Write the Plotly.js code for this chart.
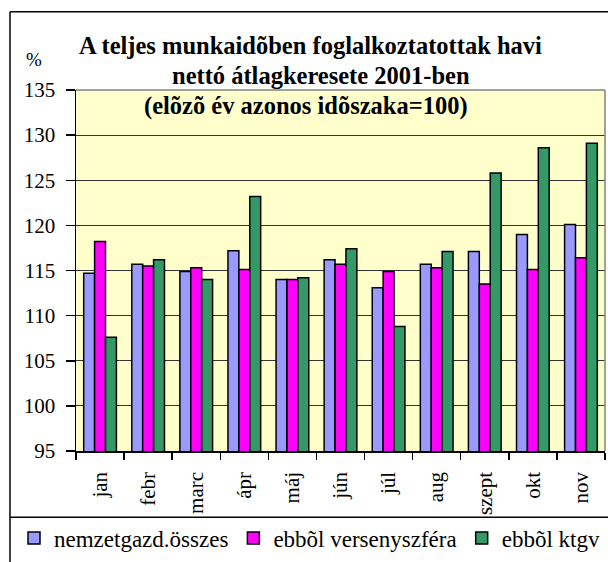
<!DOCTYPE html>
<html>
<head>
<meta charset="utf-8">
<script src="https://cdn.plot.ly/plotly-3.0.1.min.js"></script>
<style>html,body{margin:0;padding:0;background:#fff;}#chart{width:608px;height:562px;}</style>
</head>
<body>
<div id="chart"></div>
<script>
var categories = ['jan','febr','marc','ápr','máj','jún','júl','aug','szept','okt','nov'];
var nemzetgazd = [114.7, 115.7, 114.9, 117.2, 114.0, 116.2, 113.1, 115.7, 117.1, 119.0, 120.1];
var versenyszfera = [118.2, 115.5, 115.3, 115.1, 114.0, 115.7, 114.9, 115.3, 113.5, 115.1, 116.4];
var ktgv = [107.6, 116.2, 114.0, 123.2, 114.2, 117.4, 108.8, 117.1, 125.8, 128.6, 129.1];
var seriesNames = ['nemzetgazd.összes', 'ebbõl versenyszféra', 'ebbõl ktgv'];
var seriesColors = ['#9999FF', '#FF00FF', '#339966'];

var FONT = 'Liberation Serif, Times New Roman, serif';
var L = 76, R = 3, T = 90, B = 107, W = 608, H = 562;
var pw = W - L - R, ph = H - T - B;
function px(x){ return (x - L) / pw; }
function py(y){ return (H - B - y) / ph; }

var allSeries = [nemzetgazd, versenyszfera, ktgv];
var traces = allSeries.map(function(vals, i){
  return {
    type: 'bar',
    x: categories,
    y: vals,
    name: seriesNames[i],
    marker: {color: seriesColors[i], line: {color: '#000', width: 1.5}}
  };
});

var layout = {
  width: W, height: H,
  margin: {l: L, r: R, t: T, b: B, pad: 0},
  paper_bgcolor: '#fff',
  plot_bgcolor: '#FFFFCC',
  barmode: 'group',
  bargap: 0.32,
  bargroupgap: 0,
  font: {family: FONT, color: '#000'},
  xaxis: {
    type: 'category',
    showgrid: false,
    showline: true, linecolor: '#000', linewidth: 1.5,
    ticks: 'outside', tickson: 'boundaries', ticklen: 7, tickcolor: '#000', tickwidth: 1.5,
    tickangle: -90,
    ticklabelstandoff: 11,
    tickfont: {family: FONT, size: 21, color: '#000'}
  },
  yaxis: {
    range: [95, 135],
    dtick: 5,
    showgrid: true, gridcolor: '#333', gridwidth: 1,
    showline: true, linecolor: '#000', linewidth: 1.5,
    ticks: 'outside', ticklen: 9, tickcolor: '#000', tickwidth: 1.5,
    ticklabelstandoff: 6,
    zeroline: false,
    tickfont: {family: FONT, size: 21, color: '#000'}
  },
  showlegend: true,
  legend: {
    orientation: 'h',
    x: px(14), xanchor: 'left',
    y: py(543), yanchor: 'middle',
    font: {family: FONT, size: 23, color: '#000'},
    bgcolor: 'rgba(0,0,0,0)'
  },
  annotations: [
    {text: '<b>A teljes munkaidõben foglalkoztatottak havi</b>', xref: 'paper', yref: 'paper',
     x: px(310), y: py(45), xanchor: 'center', yanchor: 'middle', showarrow: false,
     font: {family: FONT, size: 24.5, color: '#000'}},
    {text: '<b>nettó átlagkeresete 2001-ben</b>', xref: 'paper', yref: 'paper',
     x: px(321), y: py(75.5), xanchor: 'center', yanchor: 'middle', showarrow: false,
     font: {family: FONT, size: 24.5, color: '#000'}},
    {text: '<b>(elõzõ év azonos idõszaka=100)</b>', xref: 'paper', yref: 'paper',
     x: px(306), y: py(106), xanchor: 'center', yanchor: 'middle', showarrow: false,
     font: {family: FONT, size: 24.5, color: '#000'}},
    {text: '%', xref: 'paper', yref: 'paper',
     x: px(34), y: py(59), xanchor: 'center', yanchor: 'middle', showarrow: false,
     font: {family: FONT, size: 19, color: '#000'}}
  ],
  shapes: [
    {type: 'line', xref: 'paper', yref: 'paper', x0: 0, x1: 1, y0: 1, y1: 1, line: {color: '#808080', width: 1.5}},
    {type: 'line', xref: 'paper', yref: 'paper', x0: 1, x1: 1, y0: 0, y1: 1, line: {color: '#808080', width: 1.5}},
    {type: 'line', xref: 'paper', yref: 'paper', x0: px(10), x1: px(10), y0: py(11), y1: py(570), line: {color: '#000', width: 1.5}},
    {type: 'line', xref: 'paper', yref: 'paper', x0: px(10), x1: px(615), y0: py(11), y1: py(11), line: {color: '#000', width: 1.5}},
    {type: 'line', xref: 'paper', yref: 'paper', x0: px(10), x1: px(615), y0: py(522), y1: py(522), line: {color: '#000', width: 1.5}}
  ]
};

Plotly.newPlot('chart', traces, layout, {displayModeBar: false, staticPlot: true});
</script>
</body>
</html>
